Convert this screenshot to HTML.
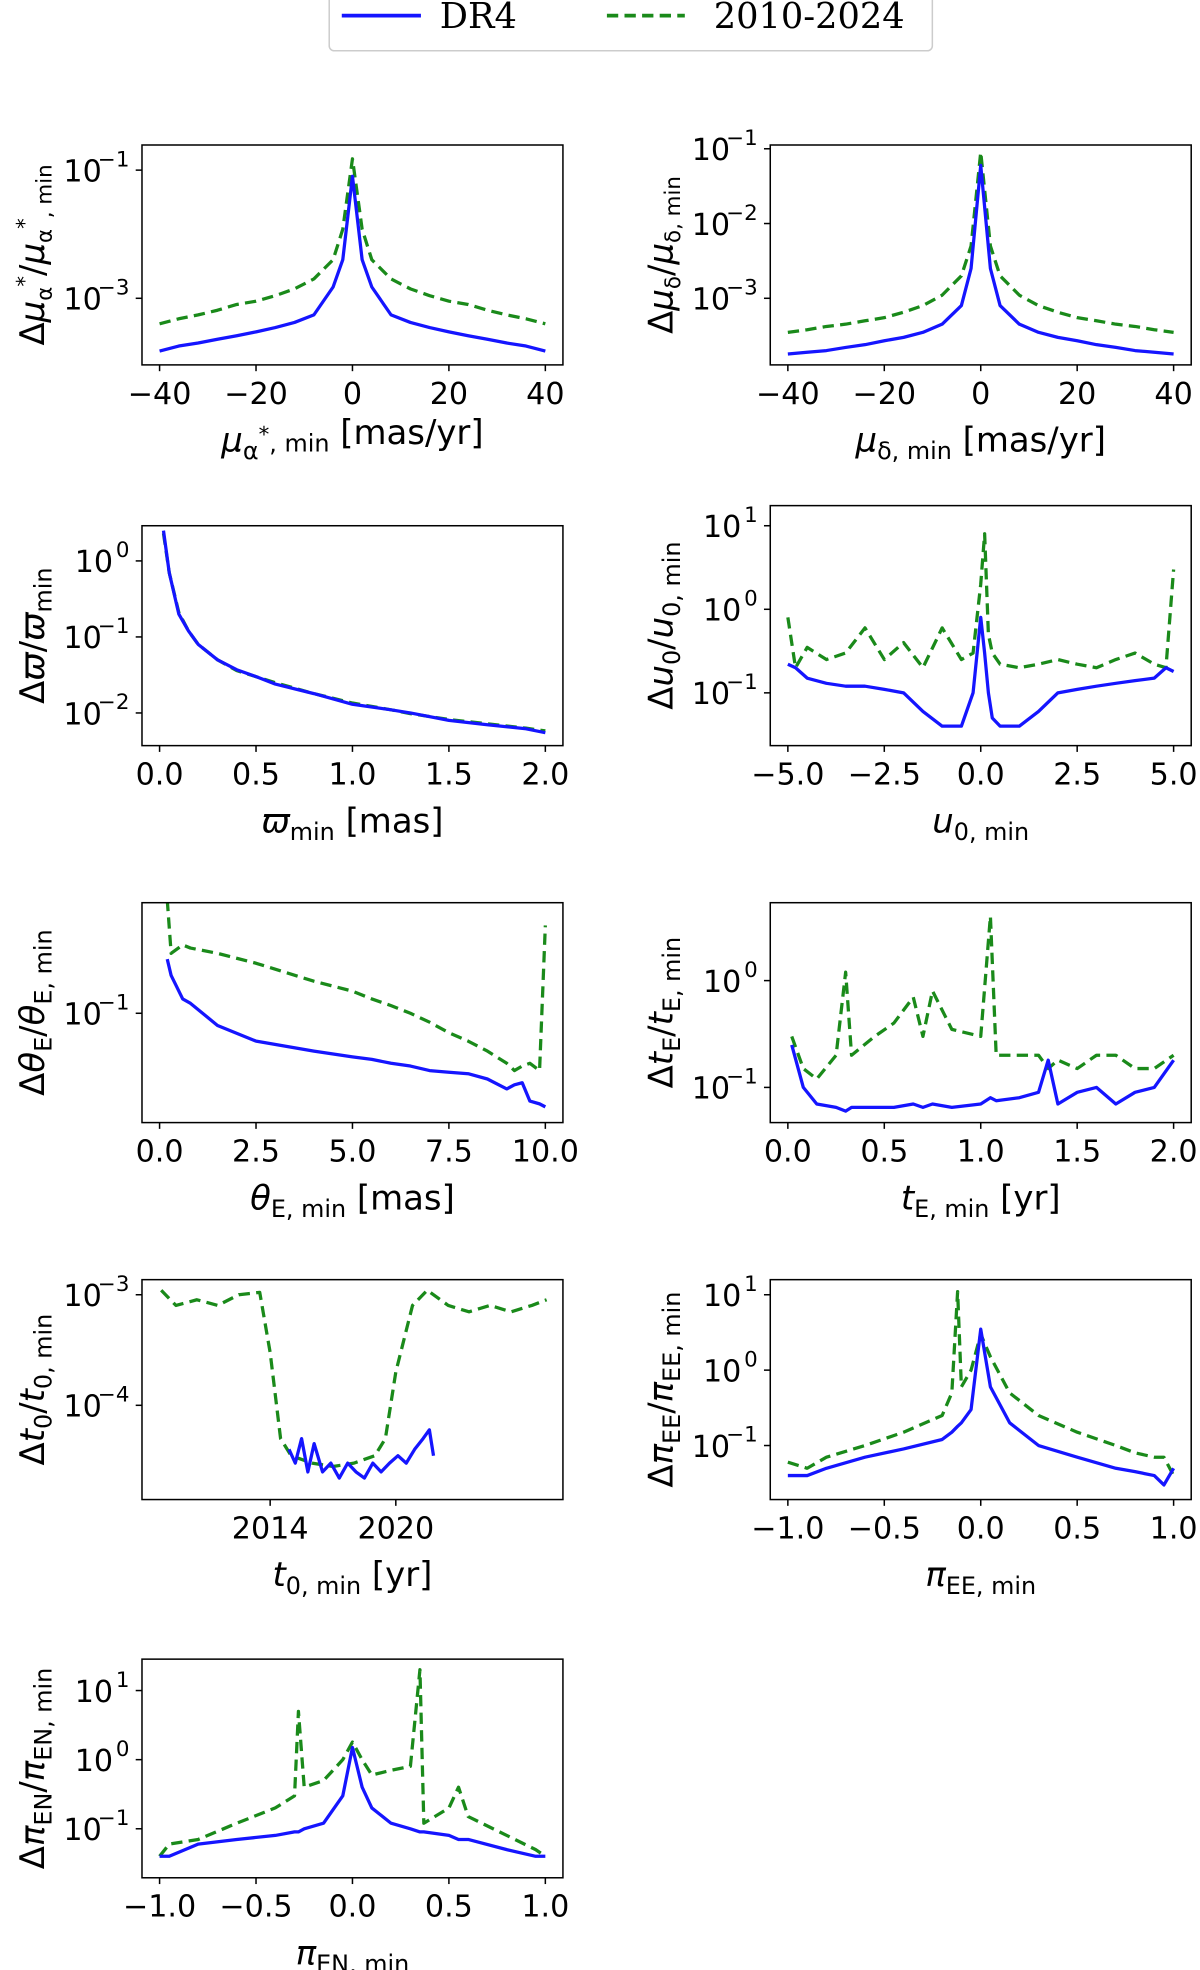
<!DOCTYPE html>
<html><head><meta charset="utf-8"><style>
html,body{margin:0;padding:0;background:#fff}
svg{display:block}
text{font-family:"DejaVu Sans","Liberation Sans",sans-serif;fill:#000}
</style></head><body>
<svg id="fig" width="1200" height="1970" viewBox="0 0 955 1567" xmlns="http://www.w3.org/2000/svg">
<g>
<rect x="262" y="-6" width="480" height="46" rx="4" fill="#fff" stroke="#ccc" stroke-width="1.2"/>
<line x1="272" y1="12" x2="335" y2="12" stroke="#1515ff" stroke-width="3"/>
<text x="350" y="22" font-size="28" style="font-family:'DejaVu Serif',serif">DR4</text>
<line x1="483" y1="12" x2="545" y2="12" stroke="#1a8a1a" stroke-width="3" stroke-dasharray="9,5"/>
<text x="568" y="22" font-size="28" style="font-family:'DejaVu Serif',serif">2010-2024</text>
</g>
</svg>
<script>
// ---- data ----
const p1x=[-40,-36,-32,-28,-24,-20,-16,-12,-8,-4,-2,0,2,4,8,12,16,20,24,28,32,36,40];
const p1b=[1.5e-4,1.8e-4,2e-4,2.3e-4,2.6e-4,3e-4,3.5e-4,4.2e-4,5.5e-4,1.5e-3,4e-3,0.08,4e-3,1.5e-3,5.5e-4,4.2e-4,3.5e-4,3e-4,2.6e-4,2.3e-4,2e-4,1.8e-4,1.5e-4];
const p1g=[4e-4,4.8e-4,5.5e-4,6.5e-4,8e-4,9e-4,1.1e-3,1.4e-3,2e-3,4e-3,1.2e-2,0.15,1.2e-2,4e-3,2e-3,1.4e-3,1.1e-3,9e-4,8e-4,6.5e-4,5.5e-4,4.8e-4,4e-4];
const p2x=[-40,-36,-32,-28,-24,-20,-16,-12,-8,-4,-2,0,2,4,8,12,16,20,24,28,32,36,40];
const p2b=[1.8e-4,1.9e-4,2e-4,2.2e-4,2.4e-4,2.7e-4,3e-4,3.5e-4,4.5e-4,8e-4,2.5e-3,0.06,2.5e-3,8e-4,4.5e-4,3.5e-4,3e-4,2.7e-4,2.4e-4,2.2e-4,2e-4,1.9e-4,1.8e-4];
const p2g=[3.5e-4,3.8e-4,4.2e-4,4.5e-4,5e-4,5.5e-4,6.5e-4,8e-4,1.1e-3,2e-3,5e-3,0.09,5e-3,2e-3,1.1e-3,8e-4,6.5e-4,5.5e-4,5e-4,4.5e-4,4.2e-4,3.8e-4,3.5e-4];
const p3x=[0.02,0.05,0.1,0.15,0.2,0.3,0.4,0.5,0.6,0.8,1.0,1.2,1.3,1.5,1.7,1.9,2.0];
const p3b=[2.5,0.7,0.2,0.12,0.08,0.05,0.037,0.03,0.024,0.018,0.013,0.011,0.01,0.008,0.007,0.0062,0.0055];
const p3g=[2.3,0.7,0.21,0.12,0.08,0.05,0.036,0.03,0.025,0.018,0.0135,0.011,0.0098,0.0082,0.0072,0.0063,0.0058];
const p4x=[-5,-4.8,-4.5,-4,-3.5,-3,-2.5,-2,-1.5,-1,-0.5,-0.2,0,0.1,0.2,0.3,0.5,1,1.5,2,2.5,3,3.5,4,4.5,4.8,5];
const p4b=[0.22,0.2,0.15,0.13,0.12,0.12,0.11,0.1,0.06,0.04,0.04,0.1,0.8,0.3,0.1,0.05,0.04,0.04,0.06,0.1,0.11,0.12,0.13,0.14,0.15,0.2,0.18];
const p4g=[0.8,0.2,0.35,0.25,0.3,0.6,0.25,0.4,0.2,0.6,0.25,0.3,2,8,0.5,0.3,0.22,0.2,0.22,0.25,0.22,0.2,0.25,0.3,0.22,0.2,3];
const p5x=[0.2,0.3,0.6,0.8,1.5,2.5,4,5,5.5,6,6.5,7,7.5,8,8.5,9,9.2,9.4,9.6,9.85,10];
const p5b=[0.27,0.2,0.13,0.12,0.08,0.06,0.05,0.045,0.043,0.04,0.038,0.035,0.034,0.033,0.03,0.025,0.027,0.028,0.02,0.019,0.018];
const p5g=[0.8,0.3,0.35,0.33,0.3,0.25,0.18,0.15,0.13,0.115,0.1,0.085,0.07,0.06,0.05,0.04,0.035,0.038,0.04,0.035,0.5];
const p6x=[0.02,0.08,0.15,0.25,0.3,0.33,0.45,0.55,0.65,0.7,0.75,0.85,1.0,1.05,1.08,1.2,1.3,1.35,1.4,1.5,1.6,1.7,1.8,1.9,2.0];
const p6b=[0.25,0.1,0.07,0.065,0.06,0.065,0.065,0.065,0.07,0.065,0.07,0.065,0.07,0.08,0.075,0.08,0.09,0.18,0.07,0.09,0.1,0.07,0.09,0.1,0.18];
const p6g=[0.3,0.15,0.12,0.2,1.2,0.2,0.3,0.4,0.7,0.3,0.8,0.35,0.3,4,0.2,0.2,0.2,0.15,0.18,0.15,0.2,0.2,0.15,0.15,0.2];
const p7gx=[2008.8,2009.5,2010.5,2011.5,2012.5,2013.5,2014,2014.5,2015,2016,2017,2018,2019,2019.5,2020,2020.8,2021.5,2022.5,2023.5,2024.5,2025.5,2026.5,2027.2];
const p7g=[1.1e-3,8e-4,9e-4,8e-4,1e-3,1.05e-3,3e-4,5e-5,3.5e-5,3e-5,2.8e-5,3e-5,3.5e-5,5e-5,2e-4,8e-4,1.1e-3,8e-4,7e-4,8e-4,7e-4,8e-4,9e-4];
const p7bx=[2014.9,2015.2,2015.5,2015.8,2016.1,2016.5,2016.9,2017.3,2017.7,2018.1,2018.5,2018.9,2019.3,2019.7,2020.1,2020.5,2020.9,2021.3,2021.6,2021.8];
const p7b=[4e-5,3e-5,5e-5,2.5e-5,4.5e-5,2.5e-5,3e-5,2.2e-5,3e-5,2.5e-5,2.2e-5,3e-5,2.5e-5,3e-5,3.5e-5,3e-5,4e-5,5e-5,6e-5,3.5e-5];
const p8x=[-1,-0.9,-0.8,-0.6,-0.4,-0.2,-0.15,-0.12,-0.1,-0.05,0,0.05,0.15,0.3,0.5,0.7,0.8,0.9,0.95,1];
const p8b=[0.04,0.04,0.05,0.07,0.09,0.12,0.15,0.18,0.2,0.3,3.5,0.6,0.2,0.1,0.07,0.05,0.045,0.04,0.03,0.05];
const p8g=[0.06,0.05,0.07,0.1,0.15,0.25,0.5,11,0.6,1,3,1.5,0.5,0.25,0.15,0.1,0.08,0.07,0.07,0.04];
const p9x=[-1,-0.95,-0.8,-0.6,-0.4,-0.3,-0.28,-0.25,-0.15,-0.05,0,0.05,0.1,0.2,0.3,0.35,0.37,0.5,0.55,0.6,0.8,0.95,1];
const p9b=[0.04,0.04,0.06,0.07,0.08,0.09,0.09,0.1,0.12,0.3,1.5,0.4,0.2,0.12,0.1,0.09,0.09,0.08,0.07,0.07,0.05,0.04,0.04];
const p9g=[0.04,0.06,0.07,0.12,0.2,0.3,5,0.4,0.5,1,1.8,1,0.6,0.7,0.8,20,0.12,0.2,0.4,0.15,0.08,0.05,0.04];

const panels=[
 {id:'mu-alpha',box:[113,115,335,175],xa:[-40,127,40,434],xt:[[-40,'−40'],[-20,'−20'],[0,'0'],[20,'20'],[40,'40']],ya:[-1,135,51],yt:[-1,-3],series:[[p1x,p1g,'g'],[p1x,p1b,'b']],
  yl:'Δ<tspan font-style="italic">μ</tspan><tspan font-size="17" dy="6">α</tspan><tspan dy="-16" font-size="17">*</tspan><tspan dy="10">/</tspan><tspan font-style="italic">μ</tspan><tspan font-size="17" dy="6">α</tspan><tspan dy="-16" font-size="17">*</tspan><tspan font-size="17" dy="16">, min</tspan>',
  xl:'<tspan font-style="italic">μ</tspan><tspan font-size="19" dy="6">α</tspan><tspan font-size="17" dy="-14">*</tspan><tspan font-size="19" dy="8">, min</tspan><tspan dy="-6"> [mas/yr]</tspan>'},
 {id:'mu-delta',box:[613,115,335,175],xa:[-40,627,40,934],xt:[[-40,'−40'],[-20,'−20'],[0,'0'],[20,'20'],[40,'40']],ya:[-1,118,59.5],yt:[-1,-2,-3],series:[[p2x,p2g,'g'],[p2x,p2b,'b']],
  yl:'Δ<tspan font-style="italic">μ</tspan><tspan font-size="17" dy="6">δ</tspan><tspan dy="-6">/</tspan><tspan font-style="italic">μ</tspan><tspan font-size="17" dy="6">δ, min</tspan>',
  xl:'<tspan font-style="italic">μ</tspan><tspan font-size="19" dy="6">δ, min</tspan><tspan dy="-6"> [mas/yr]</tspan>'},
 {id:'parallax',box:[113,418,335,175],xa:[0,127,2,434],xt:[[0,'0.0'],[0.5,'0.5'],[1,'1.0'],[1.5,'1.5'],[2,'2.0']],ya:[0,446,60.5],yt:[0,-1,-2],series:[[p3x,p3g,'g'],[p3x,p3b,'b']],
  yl:'Δ<tspan font-style="italic">ϖ</tspan>/<tspan font-style="italic">ϖ</tspan><tspan font-size="19" dy="6">min</tspan>',
  xl:'<tspan font-style="italic">ϖ</tspan><tspan font-size="19" dy="6">min</tspan><tspan dy="-6"> [mas]</tspan>'},
 {id:'u0',box:[613,402,335,191],xa:[-5,627,5,934],xt:[[-5,'−5.0'],[-2.5,'−2.5'],[0,'0.0'],[2.5,'2.5'],[5,'5.0']],ya:[1,418,66.5],yt:[1,0,-1],series:[[p4x,p4g,'g'],[p4x,p4b,'b']],
  yl:'Δ<tspan font-style="italic">u</tspan><tspan font-size="19" dy="6">0</tspan><tspan dy="-6">/</tspan><tspan font-style="italic">u</tspan><tspan font-size="19" dy="6">0, min</tspan>',
  xl:'<tspan font-style="italic">u</tspan><tspan font-size="19" dy="6">0, min</tspan>'},
 {id:'thetaE',box:[113,718,335,175],xa:[0,127,10,434],xt:[[0,'0.0'],[2.5,'2.5'],[5,'5.0'],[7.5,'7.5'],[10,'10.0']],ya:[-1,806,100],yt:[-1],series:[[p5x,p5g,'g'],[p5x,p5b,'b']],
  yl:'Δ<tspan font-style="italic">θ</tspan><tspan font-size="19" dy="6">E</tspan><tspan dy="-6">/</tspan><tspan font-style="italic">θ</tspan><tspan font-size="19" dy="6">E, min</tspan>',
  xl:'<tspan font-style="italic">θ</tspan><tspan font-size="19" dy="6">E, min</tspan><tspan dy="-6"> [mas]</tspan>'},
 {id:'tE',box:[613,718,335,175],xa:[0,627,2,934],xt:[[0,'0.0'],[0.5,'0.5'],[1,'1.0'],[1.5,'1.5'],[2,'2.0']],ya:[0,780,85],yt:[0,-1],series:[[p6x,p6g,'g'],[p6x,p6b,'b']],
  yl:'Δ<tspan font-style="italic">t</tspan><tspan font-size="19" dy="6">E</tspan><tspan dy="-6">/</tspan><tspan font-style="italic">t</tspan><tspan font-size="19" dy="6">E, min</tspan>',
  xl:'<tspan font-style="italic">t</tspan><tspan font-size="19" dy="6">E, min</tspan><tspan dy="-6"> [yr]</tspan>'},
 {id:'t0',box:[113,1018,335,175],xa:[2014,215,2020,315],xt:[[2014,'2014'],[2020,'2020']],ya:[-3,1030,88],yt:[-3,-4],series:[[p7gx,p7g,'g'],[p7bx,p7b,'b']],
  yl:'Δ<tspan font-style="italic">t</tspan><tspan font-size="19" dy="6">0</tspan><tspan dy="-6">/</tspan><tspan font-style="italic">t</tspan><tspan font-size="19" dy="6">0, min</tspan>',
  xl:'<tspan font-style="italic">t</tspan><tspan font-size="19" dy="6">0, min</tspan><tspan dy="-6"> [yr]</tspan>'},
 {id:'piEE',box:[613,1018,335,175],xa:[-1,627,1,934],xt:[[-1,'−1.0'],[-0.5,'−0.5'],[0,'0.0'],[0.5,'0.5'],[1,'1.0']],ya:[1,1030,60],yt:[1,0,-1],series:[[p8x,p8g,'g'],[p8x,p8b,'b']],
  yl:'Δ<tspan font-style="italic">π</tspan><tspan font-size="19" dy="6">EE</tspan><tspan dy="-6">/</tspan><tspan font-style="italic">π</tspan><tspan font-size="19" dy="6">EE, min</tspan>',
  xl:'<tspan font-style="italic">π</tspan><tspan font-size="19" dy="6">EE, min</tspan>'},
 {id:'piEN',box:[113,1320,335,174],xa:[-1,127,1,434],xt:[[-1,'−1.0'],[-0.5,'−0.5'],[0,'0.0'],[0.5,'0.5'],[1,'1.0']],ya:[1,1345,55],yt:[1,0,-1],series:[[p9x,p9g,'g'],[p9x,p9b,'b']],
  yl:'Δ<tspan font-style="italic">π</tspan><tspan font-size="19" dy="6">EN</tspan><tspan dy="-6">/</tspan><tspan font-style="italic">π</tspan><tspan font-size="19" dy="6">EN, min</tspan>',
  xl:'<tspan font-style="italic">π</tspan><tspan font-size="19" dy="6">EN, min</tspan>'}
];
const fig=document.getElementById('fig');
let html='';
panels.forEach(p=>{
  const [bx,by,bw,bh]=p.box;
  const sx=v=>p.xa[1]+(v-p.xa[0])*(p.xa[3]-p.xa[1])/(p.xa[2]-p.xa[0]);
  const sy=v=>p.ya[1]-(Math.log10(v)-p.ya[0])*p.ya[2];
  let g=`<g>`;
  g+=`<defs><clipPath id="c-${p.id}"><rect x="${bx}" y="${by}" width="${bw}" height="${bh}"/></clipPath></defs>`;
  g+=`<g clip-path="url(#c-${p.id})">`;
  p.series.forEach(([xs,ys,c])=>{
    const d=xs.map((x,i)=>(i?'L':'M')+sx(x).toFixed(1)+','+sy(ys[i]).toFixed(1)).join('');
    g+= c==='b'
      ? `<path d="${d}" fill="none" stroke="#1515ff" stroke-width="2.6" stroke-linejoin="round"/>`
      : `<path d="${d}" fill="none" stroke="#1a8a1a" stroke-width="2.6" stroke-dasharray="9,5" stroke-linejoin="round"/>`;
  });
  g+='</g>';
  g+=`<rect x="${bx}" y="${by}" width="${bw}" height="${bh}" fill="none" stroke="#000" stroke-width="1.2"/>`;
  p.xt.forEach(([v,l])=>{const x=sx(v);
    g+=`<line x1="${x}" y1="${by+bh}" x2="${x}" y2="${by+bh+5}" stroke="#000" stroke-width="1.2"/>`;
    g+=`<text x="${x}" y="${by+bh+31}" font-size="24" text-anchor="middle">${l}</text>`;});
  p.yt.forEach(e=>{const y=sy(Math.pow(10,e));
    g+=`<line x1="${bx-5}" y1="${y}" x2="${bx}" y2="${y}" stroke="#000" stroke-width="1.2"/>`;
    const es=e<0?'−'+(-e):''+e;
    g+=`<text x="${bx-10-(es.length>1?22:13)}" y="${y+9}" font-size="24" text-anchor="end">10</text><text x="${bx-10}" y="${y-3}" font-size="17" text-anchor="end">${es}</text>`;});
  const cy=by+bh/2;
  g+=`<text transform="translate(${bx-78},${cy}) rotate(-90)" font-size="27" text-anchor="middle">${p.yl}</text>`;
  g+=`<text x="${bx+bw/2}" y="${by+bh+69}" font-size="27" text-anchor="middle">${p.xl}</text>`;
  g+='</g>';
  html+=g;
});
fig.insertAdjacentHTML('beforeend',html);
</script>
</body></html>
